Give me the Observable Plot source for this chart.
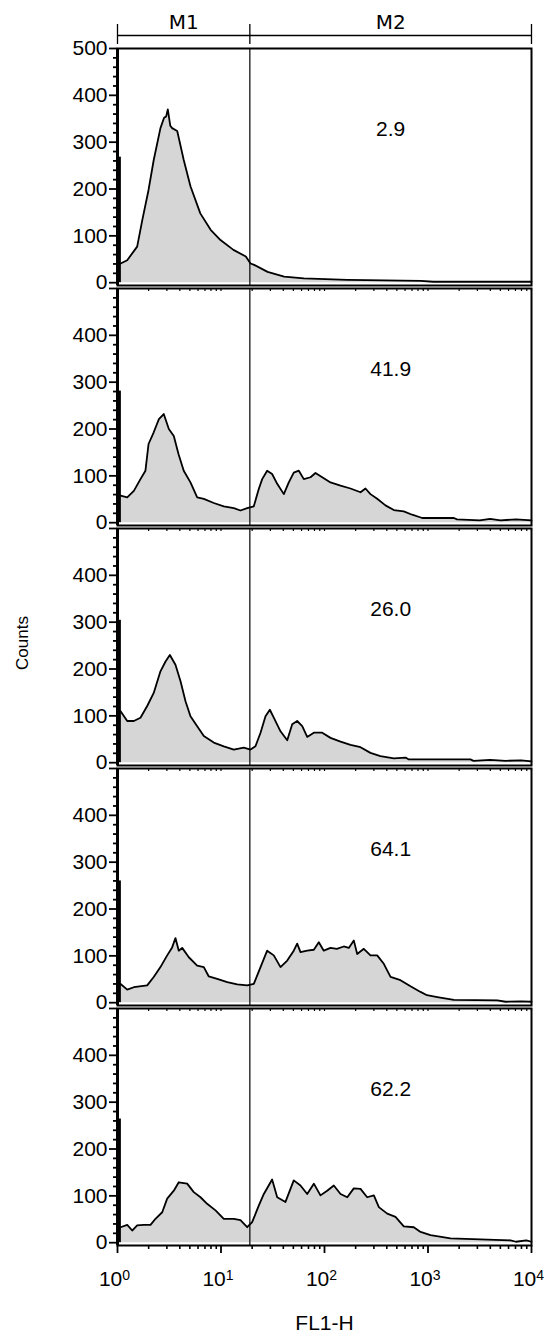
<!DOCTYPE html>
<html><head><meta charset="utf-8">
<script src="https://cdn.jsdelivr.net/npm/d3@7"></script>
<script src="https://cdn.jsdelivr.net/npm/@observablehq/plot@0.6"></script>
<style>
body{margin:0;background:#fff;}
#chart svg{display:block;}
</style></head><body><div id="chart"></div>
<script>
// ---- data ----
const panels = ["A", "B", "C", "D", "E"];
const m2Percent = ["2.9", "41.9", "26.0", "64.1", "62.2"];
const gateEdges = [1, 19, 10000];
const gateNames = ["M1", "M2"];
const yTicksLabeled = [0, 100, 200, 300, 400];
const yTopTick = 500;
const yTicksMinor = [20, 40, 60, 80, 120, 140, 160, 180, 220, 240, 260, 280, 320, 340, 360, 380, 420, 440, 460, 480];
const xDecades = [1, 10, 100, 1000, 10000];
const xDecadeLabels = ["10^0", "10^1", "10^2", "10^3", "10^4"];
const xMinorMultipliers = [2, 3, 4, 5, 6, 7, 8, 9];

// first channel (pile-up at 10^0) counts, one per panel, and its bin
const firstChannelBin = [1, 1.09];
const firstChannelCounts = [268, 281, 304, 260, 264];

// traced histograms: log10(FL1-H) and counts
const panelA_log = [0.03, 0.094, 0.19, 0.24, 0.30, 0.35, 0.415, 0.45, 0.47, 0.486, 0.51, 0.528, 0.577, 0.64, 0.705, 0.80, 0.90, 0.995, 1.12, 1.24, 1.285, 1.32, 1.45, 1.61, 1.80, 2.22, 2.93, 3.05, 4.0];
const panelA_cnt = [41, 48, 77, 134, 198, 262, 330, 352, 355, 370, 335, 330, 324, 262, 206, 148, 113, 91, 70, 56, 41, 38, 23, 13, 9, 6, 4, 2, 2];

const panelB_log = [0.03, 0.094, 0.158, 0.222, 0.27, 0.30, 0.35, 0.40, 0.447, 0.496, 0.544, 0.59, 0.64, 0.705, 0.77, 0.834, 0.93, 1.027, 1.124, 1.188, 1.253, 1.317, 1.365, 1.398, 1.446, 1.494, 1.543, 1.607, 1.655, 1.703, 1.752, 1.80, 1.865, 1.913, 1.978, 2.058, 2.155, 2.251, 2.348, 2.396, 2.444, 2.509, 2.589, 2.67, 2.766, 2.847, 2.944, 3.25, 3.28, 3.5, 3.6, 3.7, 3.85, 4.0];
const panelB_cnt = [58, 54, 68, 93, 111, 168, 193, 221, 232, 200, 185, 146, 111, 86, 54, 51, 42, 35, 31, 26, 31, 35, 72, 93, 111, 104, 83, 61, 86, 107, 111, 93, 97, 106, 97, 86, 79, 73, 65, 73, 61, 51, 37, 27, 24, 17, 10, 10, 7, 5, 8, 5, 7, 5];

const panelC_log = [0.03, 0.094, 0.158, 0.222, 0.287, 0.35, 0.415, 0.464, 0.506, 0.56, 0.609, 0.657, 0.705, 0.77, 0.834, 0.93, 1.027, 1.124, 1.22, 1.285, 1.333, 1.382, 1.43, 1.472, 1.51, 1.575, 1.64, 1.688, 1.736, 1.785, 1.833, 1.897, 1.978, 2.058, 2.155, 2.251, 2.348, 2.444, 2.54, 2.67, 2.783, 2.815, 3.41, 3.44, 3.6, 3.75, 3.9, 4.0];
const panelC_cnt = [110, 89, 89, 96, 121, 149, 195, 216, 230, 209, 174, 131, 99, 78, 57, 43, 35, 28, 32, 28, 35, 64, 99, 113, 96, 67, 48, 82, 89, 78, 55, 64, 64, 53, 45, 38, 33, 21, 14, 9, 11, 7, 7, 4, 6, 4, 5, 3];

const panelD_log = [0.03, 0.094, 0.158, 0.287, 0.35, 0.415, 0.48, 0.528, 0.56, 0.592, 0.625, 0.689, 0.77, 0.834, 0.882, 0.963, 1.06, 1.157, 1.253, 1.317, 1.382, 1.446, 1.51, 1.575, 1.64, 1.703, 1.736, 1.768, 1.833, 1.897, 1.945, 1.993, 2.058, 2.12, 2.186, 2.235, 2.283, 2.316, 2.38, 2.444, 2.509, 2.573, 2.638, 2.734, 2.831, 2.928, 2.99, 3.09, 3.25, 3.67, 3.75, 3.9, 4.0];
const panelD_cnt = [40, 28, 33, 37, 55, 76, 101, 118, 138, 111, 117, 97, 79, 76, 56, 51, 44, 39, 37, 40, 76, 111, 101, 76, 90, 111, 126, 108, 111, 113, 129, 111, 117, 115, 120, 117, 133, 104, 115, 101, 101, 83, 55, 48, 35, 23, 16, 12, 6, 5, 2, 3, 2];

const panelE_log = [0.03, 0.094, 0.142, 0.19, 0.254, 0.319, 0.367, 0.432, 0.48, 0.544, 0.592, 0.673, 0.737, 0.802, 0.866, 0.947, 1.027, 1.124, 1.188, 1.253, 1.301, 1.365, 1.414, 1.494, 1.543, 1.623, 1.703, 1.768, 1.833, 1.897, 1.961, 2.026, 2.09, 2.155, 2.22, 2.283, 2.348, 2.412, 2.477, 2.525, 2.606, 2.686, 2.766, 2.863, 2.928, 3.024, 3.217, 3.797, 3.85, 3.95, 4.0];
const panelE_cnt = [33, 38, 26, 37, 38, 38, 51, 65, 94, 111, 129, 126, 108, 97, 83, 69, 51, 51, 48, 33, 44, 79, 104, 135, 97, 87, 133, 122, 104, 126, 101, 111, 122, 104, 97, 116, 115, 97, 101, 76, 62, 55, 35, 33, 23, 16, 9, 5, 2, 5, 2];

// ---- build tables ----
const series = [
  [panelA_log, panelA_cnt], [panelB_log, panelB_cnt], [panelC_log, panelC_cnt],
  [panelD_log, panelD_cnt], [panelE_log, panelE_cnt]
];
const rows = [];
series.forEach(([lg, ct], p) => lg.forEach((l, i) => rows.push({panel: panels[p], fl: Math.pow(10, l), count: ct[i]})));
const spikes = panels.map((p, i) => ({panel: p, x1: firstChannelBin[0], x2: firstChannelBin[1], count: firstChannelCounts[i]}));
const gates = gateNames.map((n, i) => ({name: n, x1: gateEdges[i], x2: gateEdges[i + 1]}));
const gateThreshold = gateEdges[1];
const xMinor = [];
xDecades.slice(0, -1).forEach(d => xMinorMultipliers.forEach(m => xMinor.push(d * m)));
const allXTicks = xDecades.concat(xMinor);
const boundaryTicks = [];
panels.slice(1).forEach(p => allXTicks.forEach(x => boundaryTicks.push({panel: p, x})));
const m2Center = Math.sqrt(gates[1].x1 * gates[1].x2);

const fontMain = "'Liberation Sans', Arial, Helvetica, sans-serif";

const chart = Plot.plot({
  width: 545,
  height: 1335,
  marginTop: 46,
  marginBottom: 88,
  marginLeft: 117,
  marginRight: 14,
  style: {fontFamily: fontMain, fontSize: "21px", color: "black", background: "white"},
  x: {type: "log", domain: [xDecades[0], xDecades[xDecades.length - 1]]},
  y: {domain: [-6, yTopTick]},
  fy: {domain: panels, paddingInner: 0.014, paddingOuter: 0, axis: null, label: null},
  marks: [
    Plot.areaY(rows, {x: "fl", y: "count", fy: "panel", fill: "#d6d6d6", curve: "linear"}),
    Plot.lineY(rows, {x: "fl", y: "count", fy: "panel", stroke: "black", strokeWidth: 1.8, curve: "linear"}),
    Plot.rectY(spikes, {x1: "x1", x2: "x2", y1: () => 0, y2: "count", fy: "panel", fill: "black"}),
    Plot.ruleX([gateThreshold], {x: d => d, stroke: "black", strokeWidth: 1.2}),
    Plot.frame({stroke: "black", strokeWidth: 2}),
    Plot.ruleX([xDecades[0]], {x: d => d, stroke: "black", strokeWidth: 3}),
    // inward ticks at panel boundaries
    Plot.ruleX(boundaryTicks, {x: "x", fy: "panel", y1: () => yTopTick, y2: () => yTopTick, insetTop: 0, insetBottom: -3, stroke: "black", strokeWidth: 1.2}),
    // y axes
    Plot.axisY(yTicksMinor, {tickSize: 4, tickFormat: () => "", label: null, strokeWidth: 1.8}),
    Plot.axisY([yTopTick], {tickSize: 8, tickFormat: () => "", label: null, strokeWidth: 1.8}),
    Plot.axisY(yTicksLabeled, {tickSize: 8, tickPadding: 2, label: null, strokeWidth: 1.8, fontSize: 21}),
    Plot.text([yTopTick], {y: d => d, fy: () => panels[0], text: d => String(d), frameAnchor: "left", textAnchor: "end", dx: -10, fontSize: 21}),
    // x axes: ticks
    Plot.axisX(xMinor, {tickSize: 4, tickFormat: () => "", label: null, strokeWidth: 1.6}),
    Plot.axisX(xDecades, {tickSize: 8, tickFormat: () => "", strokeWidth: 1.8,
      label: "FL1-H", labelAnchor: "center", labelArrow: "none", labelOffset: 84, fontSize: 21}),
    // x axis: decade labels
    Plot.axisX(xDecades, {tickSize: 0, tickPadding: 26, fontSize: 21, dx: -3, label: null,
      tickFormat: d => xDecadeLabels[xDecades.indexOf(d)]}),
    // gate marker header (first panel only)
    Plot.ruleY(gates, {x1: "x1", x2: "x2", y: () => yTopTick, fy: () => panels[0], dy: -13, stroke: "black", strokeWidth: 1.3}),
    Plot.ruleX(gateEdges, {x: d => d, y1: () => yTopTick, y2: () => yTopTick, fy: () => panels[0], insetTop: -24, insetBottom: 4, stroke: "black", strokeWidth: 1.3}),
    Plot.text(gates, {x: d => Math.sqrt(d.x1 * d.x2), text: "name", fy: () => panels[0], frameAnchor: "top", lineAnchor: "middle", dy: -26, fontSize: 20, fontFamily: "'DejaVu Sans', Verdana, sans-serif"}),
    // M2 percentages
    Plot.text(panels, {x: () => m2Center, fy: d => d, text: (d, i) => m2Percent[i], frameAnchor: "top", lineAnchor: "middle", dy: 81, fontSize: 21}),
    // y label
    Plot.text(["Counts"], {fy: () => panels[2], text: d => d, frameAnchor: "left", textAnchor: "middle", rotate: -90, dx: -95, dy: -4, fontSize: 17})
  ]
});
document.getElementById("chart").appendChild(chart);

// superscript exponents on the decade labels
chart.querySelectorAll("text").forEach(t => {
  const s = t.textContent;
  const m = /^10\^(\d)$/.exec(s);
  if (m) {
    t.textContent = "";
    const base = document.createElementNS("http://www.w3.org/2000/svg", "tspan");
    base.textContent = "10";
    const sup = document.createElementNS("http://www.w3.org/2000/svg", "tspan");
    sup.textContent = m[1];
    sup.setAttribute("dy", "-0.45em");
    sup.setAttribute("font-size", "14");
    t.appendChild(base);
    t.appendChild(sup);
  }
});
</script>
</body></html>
